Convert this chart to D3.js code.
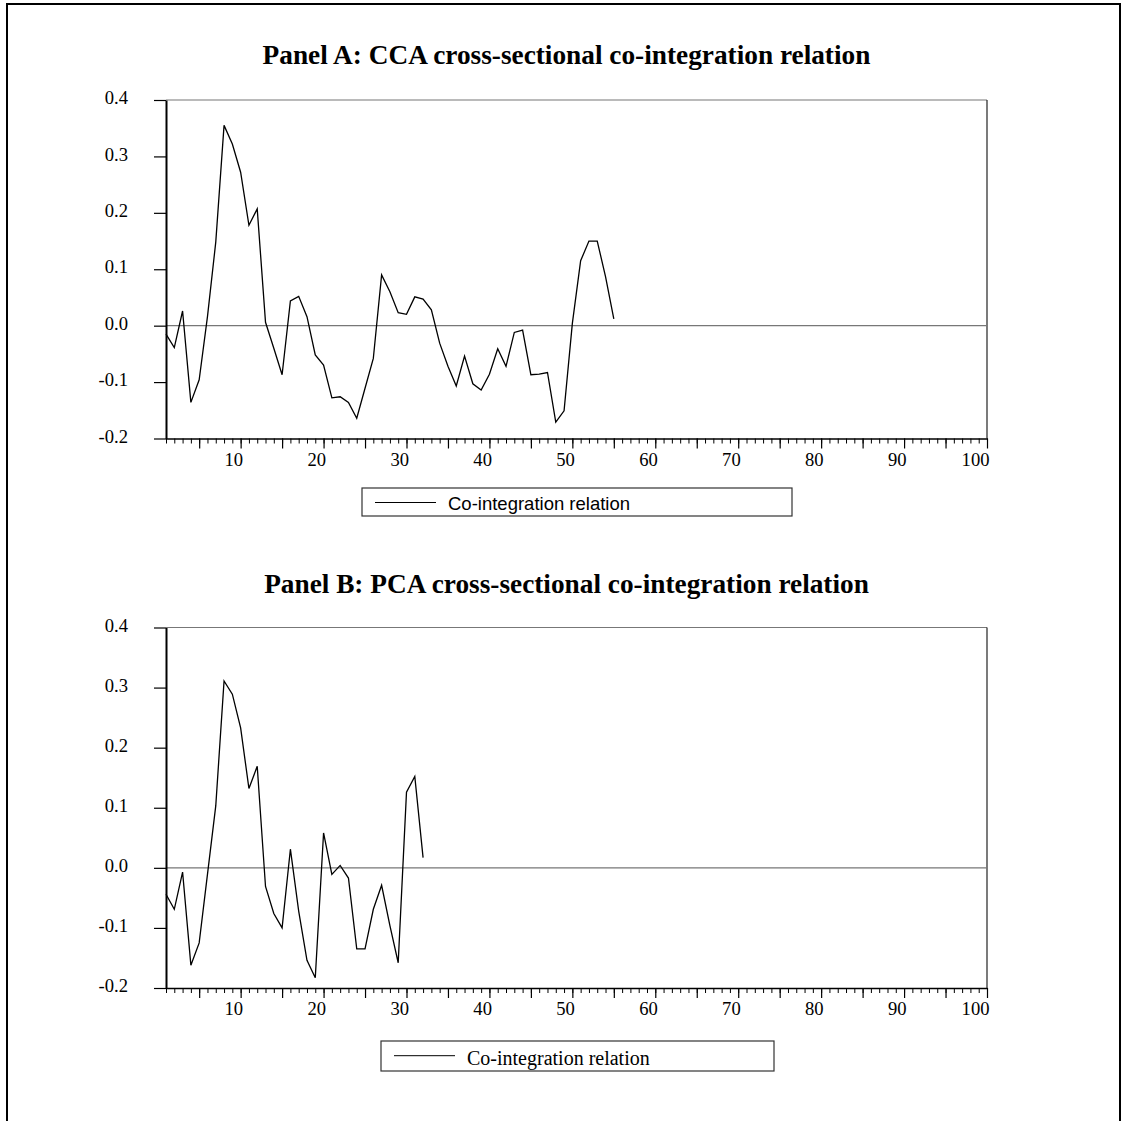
<!DOCTYPE html>
<html>
<head>
<meta charset="utf-8">
<script src="https://cdn.jsdelivr.net/npm/d3@7/dist/d3.min.js"></script>
<style>
  html, body { margin: 0; padding: 0; background: #fff; }
  svg { display: block; }
</style>
</head>
<body>
<svg id="chart" width="1122" height="1121"></svg>
<script>
// Cross-sectional co-integration relations, indexed by observation number
const panelTitles = [
  "Panel A: CCA cross-sectional co-integration relation",
  "Panel B: PCA cross-sectional co-integration relation"
];
const legendLabel = "Co-integration relation";

const ccaRelation = [
  -0.015, -0.039, 0.026, -0.136, -0.096, 0.016, 0.148, 0.355, 0.322, 0.272,
  0.178, 0.207, 0.006, -0.040, -0.087, 0.044, 0.052, 0.016, -0.052, -0.070,
  -0.128, -0.126, -0.136, -0.164, -0.111, -0.058, 0.090, 0.060, 0.023, 0.020,
  0.051, 0.047, 0.028, -0.031, -0.072, -0.107, -0.054, -0.103, -0.114, -0.086,
  -0.041, -0.072, -0.012, -0.008, -0.087, -0.086, -0.083, -0.171, -0.151, 0.004,
  0.115, 0.150, 0.150, 0.087, 0.012
];

const pcaRelation = [
  -0.044, -0.069, -0.007, -0.162, -0.125, -0.011, 0.103, 0.311, 0.289, 0.233,
  0.132, 0.169, -0.031, -0.076, -0.100, 0.031, -0.072, -0.154, -0.183, 0.058,
  -0.011, 0.004, -0.017, -0.135, -0.135, -0.069, -0.029, -0.096, -0.158, 0.126,
  0.152, 0.017
];

const yTicks = [-0.2, -0.1, 0.0, 0.1, 0.2, 0.3, 0.4];
const xLabelTicks = [10, 20, 30, 40, 50, 60, 70, 80, 90, 100];
const xDomain = [1, 100];
const yDomain = [-0.2, 0.4];

const svg = d3.select("#chart");
const serif = "'Liberation Serif', 'Times New Roman', serif";
const sans = "'Liberation Sans', Arial, sans-serif";

// outer frame
const frame = svg.append("g").attr("fill", "none").attr("stroke", "#000").attr("stroke-width", 2);
frame.append("path").attr("d", "M7,1121 V4 H1120 V1121");

const x = d3.scaleLinear().domain(xDomain).range([166, 987]);

const panels = [
  { data: ccaRelation, title: panelTitles[0], titleY: 63.5, top: 100, bottom: 438.5,
    legend: { x0: 362, y0: 488, x1: 792, y1: 516, lx0: 375, lx1: 436, ly: 502.5,
              tx: 448, ty: 509.5, font: sans, size: 18.5 } },
  { data: pcaRelation, title: panelTitles[1], titleY: 592.5, top: 627.5, bottom: 988,
    legend: { x0: 381, y0: 1041, x1: 774, y1: 1071, lx0: 394, lx1: 455, ly: 1055.7,
              tx: 467, ty: 1064.5, font: serif, size: 20 } }
];

panels.forEach(p => {
  const g = svg.append("g");
  const y = d3.scaleLinear().domain(yDomain).range([p.bottom, p.top]);

  g.append("text")
    .attr("x", 566.5).attr("y", p.titleY)
    .attr("text-anchor", "middle")
    .attr("font-family", serif).attr("font-weight", "bold").attr("font-size", "27.3px")
    .text(p.title);

  // top and right frame of the plot area
  g.append("line").attr("x1", x(1)).attr("x2", x(100)).attr("y1", p.top).attr("y2", p.top)
    .attr("stroke", "#777").attr("stroke-width", 1.2);
  g.append("line").attr("x1", x(100)).attr("x2", x(100)).attr("y1", p.top).attr("y2", p.bottom)
    .attr("stroke", "#222").attr("stroke-width", 1.2);

  // zero reference line
  g.append("line").attr("x1", x(1)).attr("x2", x(100)).attr("y1", y(0)).attr("y2", y(0))
    .attr("stroke", "#777").attr("stroke-width", 1.2);

  // y axis
  const yAxis = d3.axisLeft(y).tickValues(yTicks).tickSize(12).tickSizeOuter(0)
    .tickPadding(26).tickFormat(d => d.toFixed(1));
  const ya = g.append("g").attr("transform", `translate(${x(1)},0)`).call(yAxis);
  ya.select(".domain").attr("stroke-width", 2);
  ya.selectAll(".tick line").attr("stroke-width", 1.2);
  ya.selectAll(".tick text")
    .attr("font-family", serif).attr("font-size", "18.6px").attr("fill", "#000")
    .attr("dy", "0.2em");

  // x axis: minor ticks at every observation, majors every 5
  const xMinor = d3.axisBottom(x).tickValues(d3.range(1, 101)).tickSize(5).tickSizeOuter(0)
    .tickFormat("");
  const xm = g.append("g").attr("transform", `translate(0,${p.bottom})`).call(xMinor);
  xm.select(".domain").attr("stroke-width", 1.6);
  xm.selectAll(".tick line").attr("stroke-width", 1);

  const xMajor = d3.axisBottom(x).tickValues(d3.range(5, 101, 5)).tickSize(10).tickSizeOuter(0)
    .tickPadding(0).tickFormat(d => xLabelTicks.includes(d) ? String(d) : "");
  const xM = g.append("g").attr("transform", `translate(0,${p.bottom})`).call(xMajor);
  xM.select(".domain").remove();
  xM.selectAll(".tick line").attr("stroke-width", 1.2);
  xM.selectAll(".tick text")
    .attr("font-family", serif).attr("font-size", "18.6px").attr("fill", "#000")
    .attr("text-anchor", "end").attr("x", 2).attr("y", 27).attr("dy", 0);

  // series line
  const line = d3.line().x((d, i) => x(i + 1)).y(d => y(d));
  g.append("path").datum(p.data)
    .attr("d", line)
    .attr("fill", "none").attr("stroke", "#000").attr("stroke-width", 1.3)
    .attr("stroke-linejoin", "miter");

  // legend
  const L = p.legend;
  const lg = g.append("g");
  lg.append("rect").attr("x", L.x0).attr("y", L.y0)
    .attr("width", L.x1 - L.x0).attr("height", L.y1 - L.y0)
    .attr("fill", "none").attr("stroke", "#333").attr("stroke-width", 1.2);
  lg.append("line").attr("x1", L.lx0).attr("x2", L.lx1).attr("y1", L.ly).attr("y2", L.ly)
    .attr("stroke", "#000").attr("stroke-width", 1);
  lg.append("text").attr("x", L.tx).attr("y", L.ty)
    .attr("font-family", L.font).attr("font-size", L.size + "px").attr("fill", "#000")
    .text(legendLabel);
});
</script>
</body>
</html>
